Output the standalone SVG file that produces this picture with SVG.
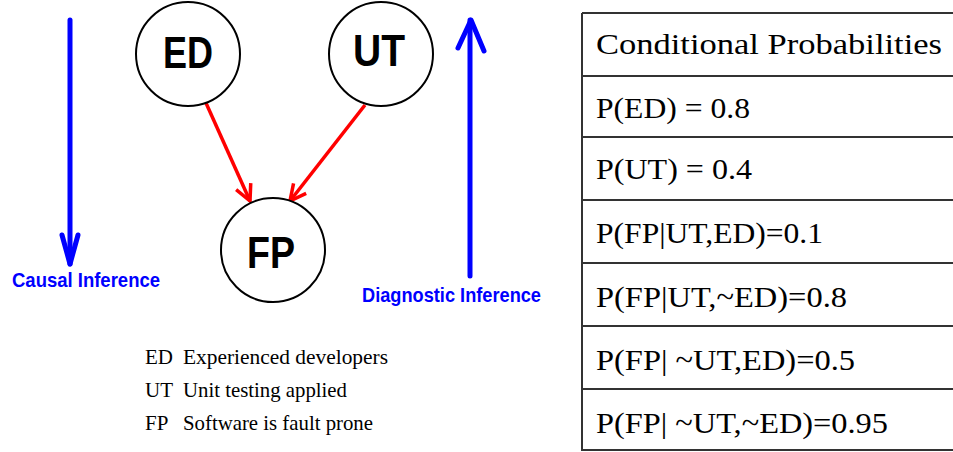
<svg xmlns="http://www.w3.org/2000/svg" width="953" height="452" viewBox="0 0 953 452">
<style>
.node{fill:#fff;stroke:#000;stroke-width:2}
.nlab{font-family:"Liberation Sans",Arial,sans-serif;font-weight:bold;font-size:44px;fill:#000;text-anchor:middle}
.edge{stroke:#ff0000;stroke-width:3.5;fill:none}
.inf{stroke:#0000ff;stroke-width:5;fill:none;stroke-linecap:round;stroke-linejoin:round}
.blab{font-family:"Liberation Sans",Arial,sans-serif;font-weight:bold;font-size:21px;fill:#0000ff}
.leg{font-family:"Liberation Serif","Times New Roman",serif;font-size:21px;fill:#000}
.tab{font-family:"Liberation Serif","Times New Roman",serif;font-size:30px;fill:#000}
.grid{stroke:#333;stroke-width:2;fill:none}
</style>
<defs>
<marker id="redhead" viewBox="0 0 20 20" refX="18" refY="10" markerWidth="20" markerHeight="20" markerUnits="userSpaceOnUse" orient="auto">
<polyline points="2,2 18,10 2,18" fill="none" stroke="#ff0000" stroke-width="3.5"/>
</marker>
</defs>
<g id="connectors">
<line class="edge" x1="206" y1="103" x2="250" y2="201" marker-end="url(#redhead)"/>
<line class="edge" x1="365" y1="105" x2="290" y2="201" marker-end="url(#redhead)"/>
</g>
<g id="ED"><circle class="node" cx="188" cy="54" r="52"/><text class="nlab" x="188" y="68" textLength="50" lengthAdjust="spacingAndGlyphs">ED</text></g>
<g id="UT"><circle class="node" cx="381" cy="54" r="52"/><text class="nlab" x="379" y="66" textLength="52" lengthAdjust="spacingAndGlyphs">UT</text></g>
<g id="FP"><circle class="node" cx="273" cy="250" r="52"/><text class="nlab" x="271" y="268" textLength="48" lengthAdjust="spacingAndGlyphs">FP</text></g>
<g id="causal">
<path class="inf" d="M70,20 V264"/>
<path class="inf" d="M62,235 L70,264 L78,235"/>
<text class="blab" x="12" y="287" textLength="148" lengthAdjust="spacingAndGlyphs">Causal Inference</text>
</g>
<g id="diagnostic">
<path class="inf" d="M470,276 V20"/>
<path class="inf" d="M458,48 L471,20 L484,51"/>
<text class="blab" x="362" y="302" textLength="179" lengthAdjust="spacingAndGlyphs">Diagnostic Inference</text>
</g>
<g id="legend">
<text class="leg" x="145" y="364">ED</text><text class="leg" x="183" y="364" textLength="205" lengthAdjust="spacingAndGlyphs">Experienced developers</text>
<text class="leg" x="145" y="397">UT</text><text class="leg" x="183" y="397" textLength="164" lengthAdjust="spacingAndGlyphs">Unit testing applied</text>
<text class="leg" x="145" y="430">FP</text><text class="leg" x="183" y="430" textLength="190" lengthAdjust="spacingAndGlyphs">Software is fault prone</text>
</g>
<g id="table">
<path class="grid" d="M582,13 H953 M582,13 V450 H953 M582,76 H953 M582,137 H953 M582,200 H953 M582,263 H953 M582,326 H953 M582,389 H953"/>
<text class="tab" x="596" y="54" textLength="346" lengthAdjust="spacingAndGlyphs">Conditional Probabilities</text>
<text class="tab" x="596" y="118" textLength="154" lengthAdjust="spacingAndGlyphs">P(ED) = 0.8</text>
<text class="tab" x="596" y="179" textLength="156" lengthAdjust="spacingAndGlyphs">P(UT) = 0.4</text>
<text class="tab" x="596" y="243" textLength="227" lengthAdjust="spacingAndGlyphs">P(FP|UT,ED)=0.1</text>
<text class="tab" x="596" y="307" textLength="251" lengthAdjust="spacingAndGlyphs">P(FP|UT,~ED)=0.8</text>
<text class="tab" x="596" y="370" textLength="259" lengthAdjust="spacingAndGlyphs">P(FP| ~UT,ED)=0.5</text>
<text class="tab" x="596" y="433" textLength="292" lengthAdjust="spacingAndGlyphs">P(FP| ~UT,~ED)=0.95</text>
</g>
</svg>
